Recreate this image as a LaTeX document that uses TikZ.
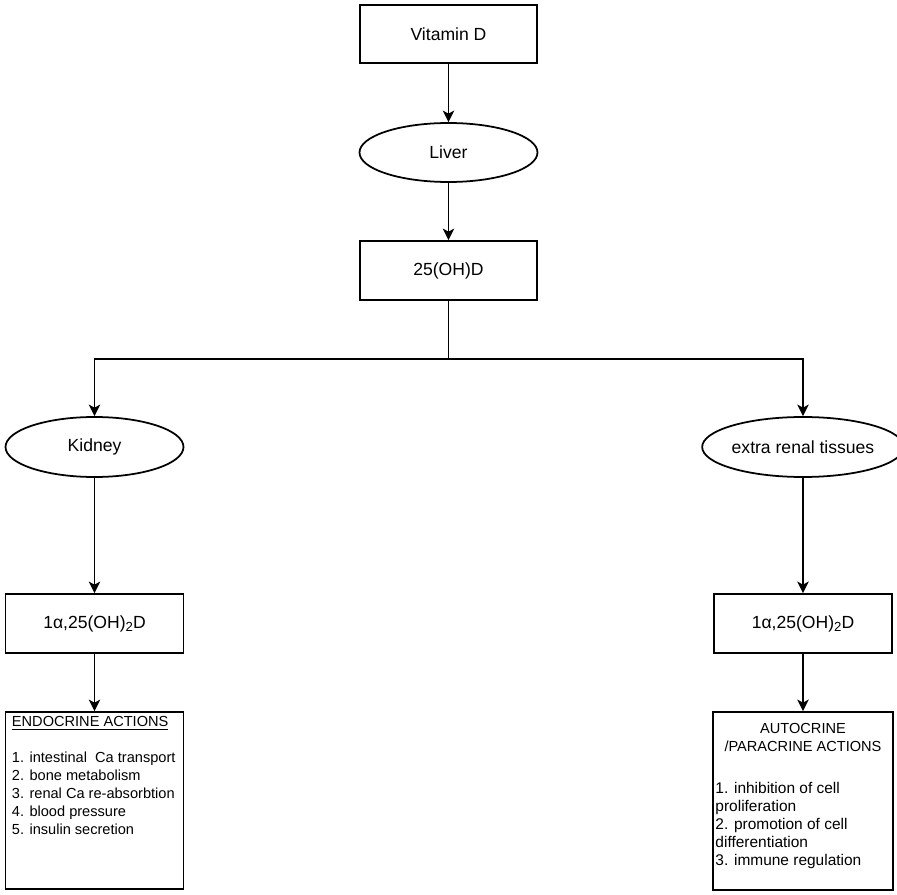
\documentclass[tikz,border=0pt]{standalone}
\usepackage{fontspec}
\setmainfont{Liberation Sans}
\usetikzlibrary{shapes.geometric,arrows.meta}

\newcommand{\subtwo}{\raisebox{-0.35ex}{\fontsize{7.5}{9}\selectfont 2}}

\tikzset{
  flowbox/.style={draw, line width=1pt, rectangle, minimum width=3.54cm, minimum height=1.18cm, inner sep=0pt, font=\fontsize{10}{12}\selectfont},
  organ/.style={draw, line width=1pt, ellipse, minimum width=3.56cm, minimum height=1.2cm, inner sep=0pt, font=\fontsize{10}{12}\selectfont},
  actbox/.style={draw, line width=1pt, rectangle, minimum width=3.56cm, minimum height=3.54cm, inner sep=0pt},
  flowarrow/.style={line width=1pt, -{Stealth[length=2.3mm, width=2.3mm, inset=0.6mm]}},
  smalltext/.style={inner sep=0pt, font=\fontsize{8.3}{10.2}\selectfont, align=left}
}

\begin{document}
\begin{tikzpicture}
    \useasboundingbox (0,0) rectangle (17.94,-17.9);

    % Upper chain
    \node[flowbox, minimum height=1.16cm] (vitd) at (8.97,-0.68) {Vitamin D};
    \node[organ, minimum height=1.18cm] (liver) at (8.97,-3.05) {Liver};
    \node[flowbox] (ohd) at (8.97,-5.41) {25(OH)D};

    % Split point of the two branches
    \coordinate (split) at (8.97,-7.18);

    % Kidney side
    \node[organ] (kidney) at (1.89,-8.94) {Kidney};
    \node[flowbox, minimum width=3.56cm] (calcl) at (1.89,-12.47) {1α,25(OH)\subtwo D};
    \node[actbox] (endo) at (1.89,-16.01) {};
    \node[smalltext, anchor=north west] (endotext) at ([xshift=0.14cm, yshift=-0.1cm]endo.north west) {%
      \underline{ENDOCRINE ACTIONS}\\[10.2pt]
      1. intestinal\ \ Ca transport\\
      2. bone metabolism\\
      3. renal Ca re-absorbtion\\
      4. blood pressure\\
      5. insulin secretion
    };

    % Extra renal side
    \node[organ] (extra) at (16.06,-8.94) {extra renal tissues};
    \node[flowbox, minimum width=3.56cm] (calcr) at (16.06,-12.47) {1α,25(OH)\subtwo D};
    \node[actbox, minimum width=3.6cm, minimum height=3.56cm] (auto) at (16.06,-16.02) {};
    \node[smalltext, align=center, anchor=north] (autohead) at ([yshift=-0.23cm]auto.north) {%
      AUTOCRINE\\
      /PARACRINE ACTIONS
    };
    \node[smalltext, font=\fontsize{8.8}{10.2}\selectfont, anchor=north west] (autotext) at ([xshift=0.06cm, yshift=-1.42cm]auto.north west) {%
      1. inhibition of cell\\
      proliferation\\
      2. promotion of cell\\
      differentiation\\
      3. immune regulation
    };

    % Connectors
    \draw[flowarrow] (vitd) -- (liver);
    \draw[flowarrow] (liver) -- (ohd);
    \draw[line width=1pt] (ohd.south) -- (split);
    \draw[flowarrow] (split) -| (kidney.north);
    \draw[flowarrow] (split) -| (extra.north);
    \draw[flowarrow] (kidney) -- (calcl);
    \draw[flowarrow] (calcl) -- (endo);
    \draw[flowarrow] (extra) -- (calcr);
    \draw[flowarrow] (calcr) -- (auto);

  \end{tikzpicture}
\end{document}
